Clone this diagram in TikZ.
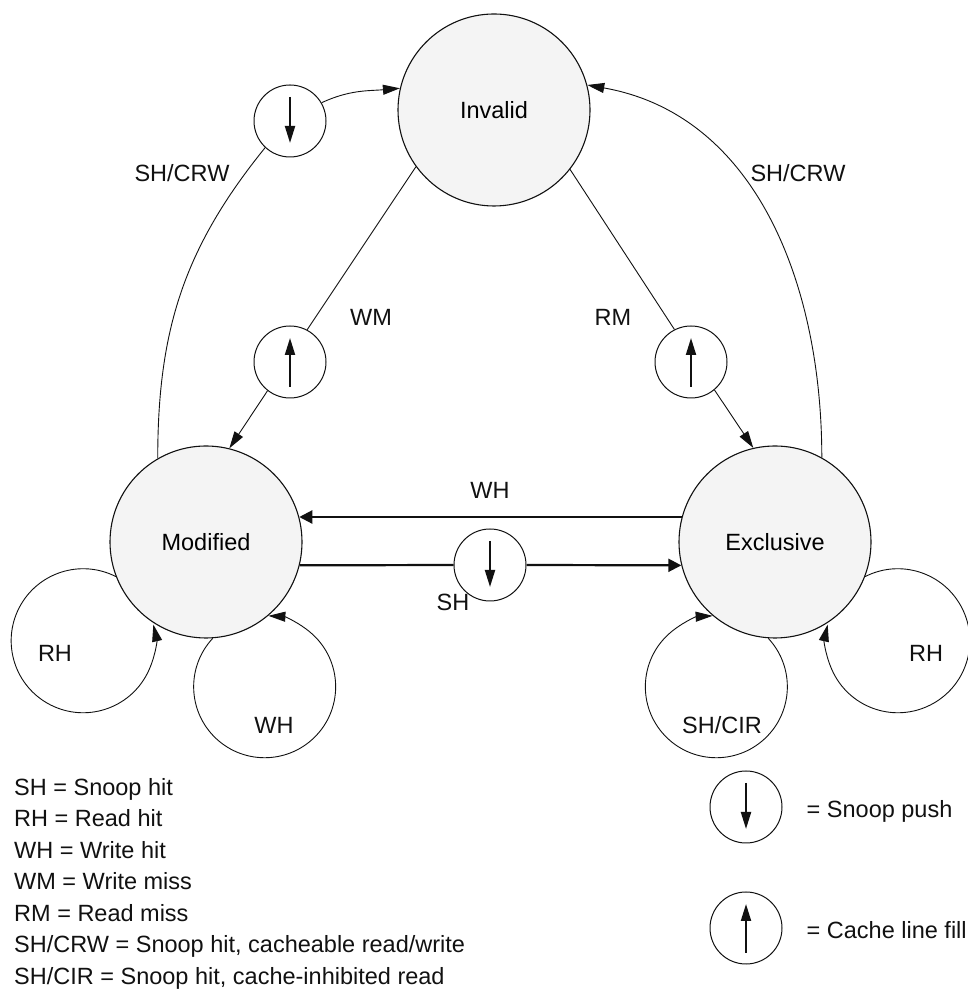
\documentclass[tikz,border=0pt]{standalone}
\usepackage{fontspec}
\setmainfont{Liberation Sans}
\usetikzlibrary{arrows.meta,positioning,calc}
\definecolor{ink}{HTML}{111111}
\definecolor{statefill}{HTML}{F4F4F4}
\tikzset{state/.style={circle,draw=ink,line width=1.1pt,fill=statefill,minimum size=192pt,inner sep=0pt,font=\fontsize{23.5}{28}\selectfont},marker/.style={circle,draw=ink,line width=1pt,fill=white,minimum size=72pt,inner sep=0pt},flow/.style={-{Triangle[length=17pt,width=10pt]},line width=0.9pt,draw=ink},plain/.style={line width=0.9pt,draw=ink},busflow/.style={-{Triangle[length=13pt,width=13pt]},line width=2.2pt,draw=ink},bus/.style={line width=2.2pt,draw=ink},tick/.style={-{Triangle[length=17pt,width=10pt]},line width=2pt,draw=ink},lbl/.style={font=\fontsize{23.5}{28}\selectfont,text=ink,inner sep=0pt}}

\begin{document}
\begin{tikzpicture}[x=1pt,y=1pt]
\useasboundingbox (0,0) rectangle (968,990);
\node[state] (inv) at (494,880) {Invalid};
\node[state] (mod) at (206,448) {Modified};
\node[state] (exc) at (775,448) {Exclusive};
\node[marker] (crwpush) at (290,869) {};
\node[marker] (wmfill) at (290,628) {};
\node[marker] (rmfill) at (691,628) {};
\node[marker] (shpush) at (490,425) {};
\node[marker] (keypush) at (746,183) {};
\node[marker] (keyfill) at (746,62) {};
\foreach \m in {crwpush,shpush,keypush} \draw[tick] ([yshift=24pt]\m.center) -- ([yshift=-22pt]\m.center);
\foreach \m in {wmfill,rmfill,keyfill} \draw[tick] ([yshift=-25pt]\m.center) -- ([yshift=24pt]\m.center);
\draw[plain] (mod.120) to[out=90,in=231] (crwpush.227);
\draw[flow] (crwpush.30) to[out=25,in=185] (inv.167);
\draw[flow] (exc.61) to[out=90,in=-10] (inv.15);
\draw[plain] (inv.216) -- (wmfill.62);\draw[flow] (wmfill.232) -- (mod.76);
\draw[plain] (inv.322) -- (rmfill.117);\draw[flow] (rmfill.310) -- (exc.103);
\draw[busflow] (exc.165) -- (mod.15);
\draw[bus] (mod.-14) -- (shpush.west);\draw[busflow] (shpush.east) -- (exc.194);
\draw[flow] (mod.201) arc[start angle=63,end angle=373,radius=72];
\draw[flow] (mod.274) arc[start angle=137,end angle=447,radius=71];
\draw[flow] (exc.266) arc[start angle=43,end angle=-267,radius=71];
\draw[flow] (exc.339) arc[start angle=117,end angle=-193,radius=72];
\node[lbl] (crwleft) at (182,817) {SH/CRW};
\node[lbl] (crwright) at (798,817) {SH/CRW};
\node[lbl] (wmlbl) at (371,673) {WM};
\node[lbl] (rmlbl) at (613,673) {RM};
\node[lbl] (whlbl) at (490,500) {WH};
\node[lbl] (shlbl) at (453,388) {SH};
\node[lbl] (rhmod) at (55,337) {RH};
\node[lbl] (whmod) at (274,265) {WH};
\node[lbl] (cirexc) at (722,265) {SH/CIR};
\node[lbl] (rhexc) at (926,337) {RH};
\node[lbl,align=left,anchor=north west,font=\fontsize{23.5}{31.5}\selectfont] (key) at (14,212) {SH = Snoop hit\\RH = Read hit\\WH = Write hit\\WM = Write miss\\RM = Read miss\\SH/CRW = Snoop hit, cacheable read/write\\SH/CIR = Snoop hit, cache-inhibited read};
\node[lbl,anchor=base west] (keypushtxt) at ([xshift=24pt,yshift=-11pt]keypush.east) {= Snoop push};
\node[lbl,anchor=base west] (keyfilltxt) at ([xshift=24pt,yshift=-11pt]keyfill.east) {= Cache line fill};
\end{tikzpicture}
\end{document}
